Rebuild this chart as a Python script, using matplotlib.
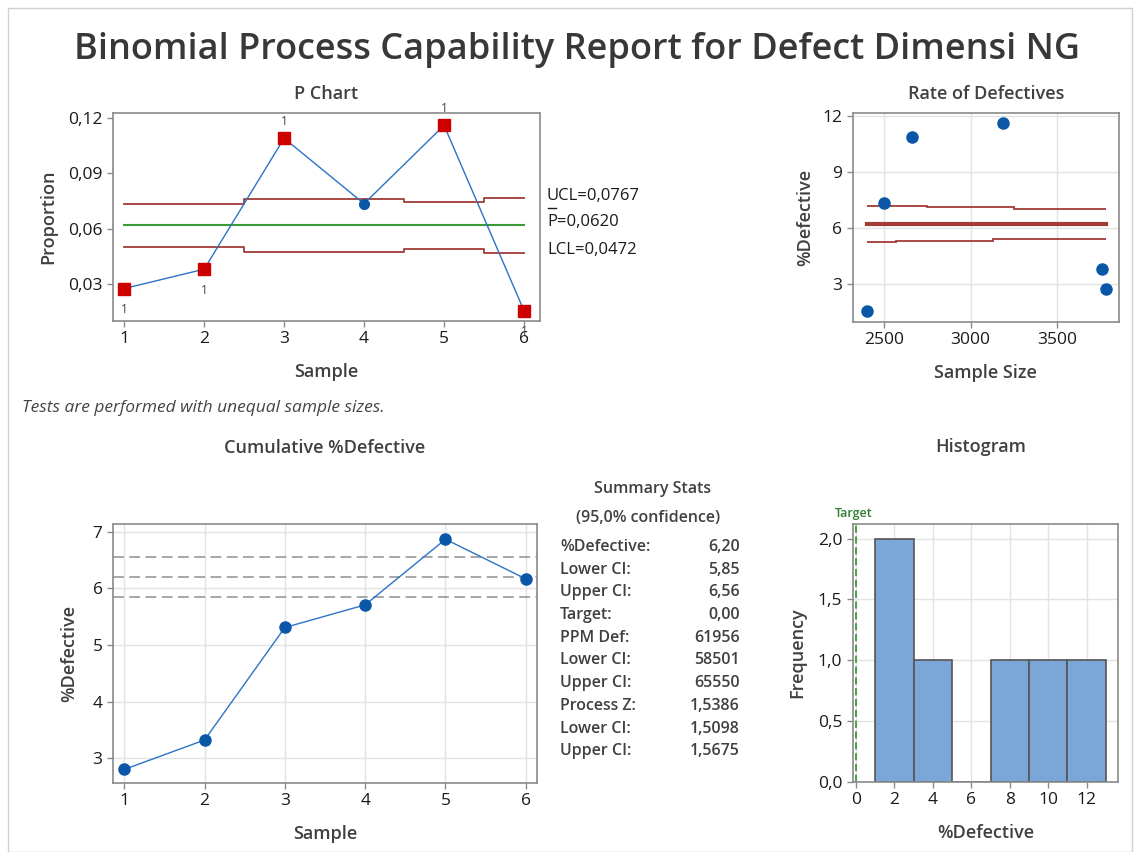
import numpy as np
import matplotlib
matplotlib.use('Agg')
import matplotlib.pyplot as plt
from matplotlib.ticker import FuncFormatter, MultipleLocator
from matplotlib.lines import Line2D
from matplotlib.patches import Rectangle

samples = [1, 2, 3, 4, 5, 6]
proportion = [0.0275, 0.0380, 0.1090, 0.0735, 0.1160, 0.0155]
out_of_control = [True, True, True, False, True, True]
ucl = [0.0735, 0.0735, 0.0760, 0.0760, 0.0745, 0.0767]
lcl = [0.0500, 0.0500, 0.0475, 0.0475, 0.0490, 0.0468]
p_bar = 0.0620

sample_size = [3780, 3760, 2660, 2500, 3190, 2400]
pct_defective = [2.75, 3.80, 10.90, 7.35, 11.60, 1.55]
rate_upper_x = [2400, 2750, 3250, 3780]
rate_upper_y = [7.20, 7.12, 7.05]
rate_lower_x = [2400, 2570, 3130, 3780]
rate_lower_y = [5.25, 5.32, 5.42]

cum_defective = [2.80, 3.32, 5.31, 5.71, 6.87, 6.17]
ci_lines = [6.56, 6.20, 5.85]

hist_bins = [1, 3, 5, 7, 9, 11, 13]

stat_labels = ['%Defective:', 'Lower CI:', 'Upper CI:', 'Target:', 'PPM Def:',
               'Lower CI:', 'Upper CI:', 'Process Z:', 'Lower CI:', 'Upper CI:']
stat_values = ['6,20', '5,85', '6,56', '0,00', '61956',
               '58501', '65550', '1,5386', '1,5098', '1,5675']

W, H = 1140, 852
plt.rcParams['font.family'] = ['Open Sans', 'DejaVu Sans']
TXT = '#404040'
SPINE = '#8a8a8a'
BLUE = '#0a57a8'
LINEBLUE = '#2b73c4'
DARKRED = '#a33a35'
LBL = dict(fontsize=13, color=TXT, fontweight='semibold')


def px(x, y):
    return x / W, 1 - y / H


def comma(fmt):
    return FuncFormatter(lambda v, _: (fmt % v).replace('.', ','))


def style(ax, grid=True):
    for s in ax.spines.values():
        s.set_color(SPINE)
        s.set_linewidth(1.2)
    ax.tick_params(colors=SPINE, labelcolor='#1a1a1a', labelsize=12.5, length=4, width=1)
    if grid:
        ax.grid(True, color='#e3e3e3', linewidth=1)
        ax.set_axisbelow(True)


fig = plt.figure(figsize=(W / 100, H / 100), dpi=100)
fig.patches.append(Rectangle((8 / W, 0), 1 - 16 / W, 1 - 8 / H, transform=fig.transFigure,
                             fill=False, edgecolor='#d0d0d0', linewidth=1))

fig.text(*px(577, 50), 'Binomial Process Capability Report for Defect Dimensi NG',
         ha='center', va='center', fontsize=26, fontweight='semibold', color='#383838')

# P chart
ax1 = fig.add_axes([113 / W, 1 - 321 / H, 427 / W, 208 / H])
style(ax1, grid=False)
ax1.step(samples, ucl, where='mid', color=DARKRED, lw=1.3)
ax1.step(samples, lcl, where='mid', color=DARKRED, lw=1.3)
ax1.plot([samples[0], samples[-1]], [p_bar, p_bar], color='#3a9a3a', lw=1.5)
ax1.plot(samples, proportion, color=LINEBLUE, lw=1)
for x, y, bad in zip(samples, proportion, out_of_control):
    if bad:
        ax1.plot(x, y, 's', color='#cc0000', ms=8)
        off = 12 if y > p_bar else -15
        ax1.annotate('1', (x, y), xytext=(0, off), textcoords='offset points',
                     ha='center', va='center', fontsize=8.5, color='#444444')
    else:
        ax1.plot(x, y, 'o', color=BLUE, ms=7)
ax1.set_xlim(0.86, 6.2)
ax1.set_ylim(0.0099, 0.1227)
ax1.set_xticks(samples)
ax1.yaxis.set_major_locator(MultipleLocator(0.03))
ax1.yaxis.set_major_formatter(comma('%.2f'))
ax1.set_xlabel('Sample', labelpad=11, **LBL)
ax1.set_ylabel('Proportion', labelpad=8, **LBL)
ax1.set_title('P Chart', pad=10, **LBL)

fig.text(*px(547, 196), 'UCL=0,0767', fontsize=12, color='#1a1a1a', va='center')
fig.text(*px(547, 222), 'P=0,0620', fontsize=12, color='#1a1a1a', va='center')
fig.lines.append(Line2D([548 / W, 556 / W], [1 - 208 / H, 1 - 208 / H],
                        transform=fig.transFigure, color='#1a1a1a', lw=1))
fig.text(*px(547, 250), 'LCL=0,0472', fontsize=12, color='#1a1a1a', va='center')

fig.text(*px(22, 408), 'Tests are performed with unequal sample sizes.',
         fontsize=12.5, style='italic', color='#444444', va='center')

# Rate of defectives
ax2 = fig.add_axes([852.7 / W, 1 - 322 / H, 266.3 / W, 209 / H])
style(ax2)
ax2.stairs(rate_upper_y, rate_upper_x, color=DARKRED, lw=1.3, baseline=None)
ax2.stairs(rate_lower_y, rate_lower_x, color=DARKRED, lw=1.3, baseline=None)
ax2.plot([rate_upper_x[0], rate_upper_x[-1]], [6.2, 6.2], color=DARKRED, lw=3)
ax2.plot(sample_size, pct_defective, 'o', color=BLUE, ms=8)
ax2.set_xlim(2319, 3858)
ax2.set_ylim(0.98, 12.16)
ax2.set_xticks([2500, 3000, 3500])
ax2.set_yticks([3, 6, 9, 12])
ax2.set_xlabel('Sample Size', labelpad=11, **LBL)
ax2.set_ylabel('%Defective', labelpad=6, **LBL)
ax2.set_title('Rate of Defectives', pad=10, **LBL)

# Cumulative %Defective
ax3 = fig.add_axes([113 / W, 1 - 783 / H, 424 / W, 259 / H])
style(ax3)
for v in ci_lines:
    ax3.axhline(v, color='#a0a0a0', lw=1.3, ls=(0, (6, 3)))
ax3.plot(samples, cum_defective, '-o', color=LINEBLUE, lw=1, ms=8,
         markerfacecolor=BLUE, markeredgecolor=BLUE)
ax3.set_xlim(0.86, 6.14)
ax3.set_ylim(2.56, 7.14)
ax3.set_xticks(samples)
ax3.set_yticks([3, 4, 5, 6, 7])
ax3.set_xlabel('Sample', labelpad=11, **LBL)
ax3.set_ylabel('%Defective', labelpad=10, **LBL)
fig.text(*px(325, 448), 'Cumulative %Defective', ha='center', va='center', **LBL)

# Summary stats
ST = dict(fontsize=11.5, color=TXT, va='center', fontweight='semibold')
fig.text(*px(652, 489), 'Summary Stats', ha='center', **ST)
fig.text(*px(648, 518), '(95,0% confidence)', ha='center', **ST)
for i, (lab, val) in enumerate(zip(stat_labels, stat_values)):
    y = 547 + i * 22.7
    fig.text(*px(560, y), lab, ha='left', **ST)
    fig.text(*px(740, y), val, ha='right', **ST)

# Histogram
ax4 = fig.add_axes([852.7 / W, 1 - 782 / H, 265.3 / W, 258 / H])
style(ax4)
ax4.hist(pct_defective, bins=hist_bins, color='#7ba6d8', edgecolor='#555555', linewidth=1.2)
ax4.axvline(0, color='#3a9a3a', lw=1.3, ls=(0, (4, 2)))
ax4.set_xlim(-0.17, 13.63)
ax4.set_ylim(0, 2.12)
ax4.set_xticks([0, 2, 4, 6, 8, 10, 12])
ax4.yaxis.set_major_locator(MultipleLocator(0.5))
ax4.yaxis.set_major_formatter(comma('%.1f'))
ax4.set_xlabel('%Defective', labelpad=11, **LBL)
ax4.set_ylabel('Frequency', labelpad=8, **LBL)
fig.text(*px(854, 514), 'Target', ha='center', va='center', fontsize=9,
         fontweight='semibold', color='#2e7d32')
fig.text(*px(981, 447), 'Histogram', ha='center', va='center', **LBL)

fig.savefig('out.png', dpi=100)
